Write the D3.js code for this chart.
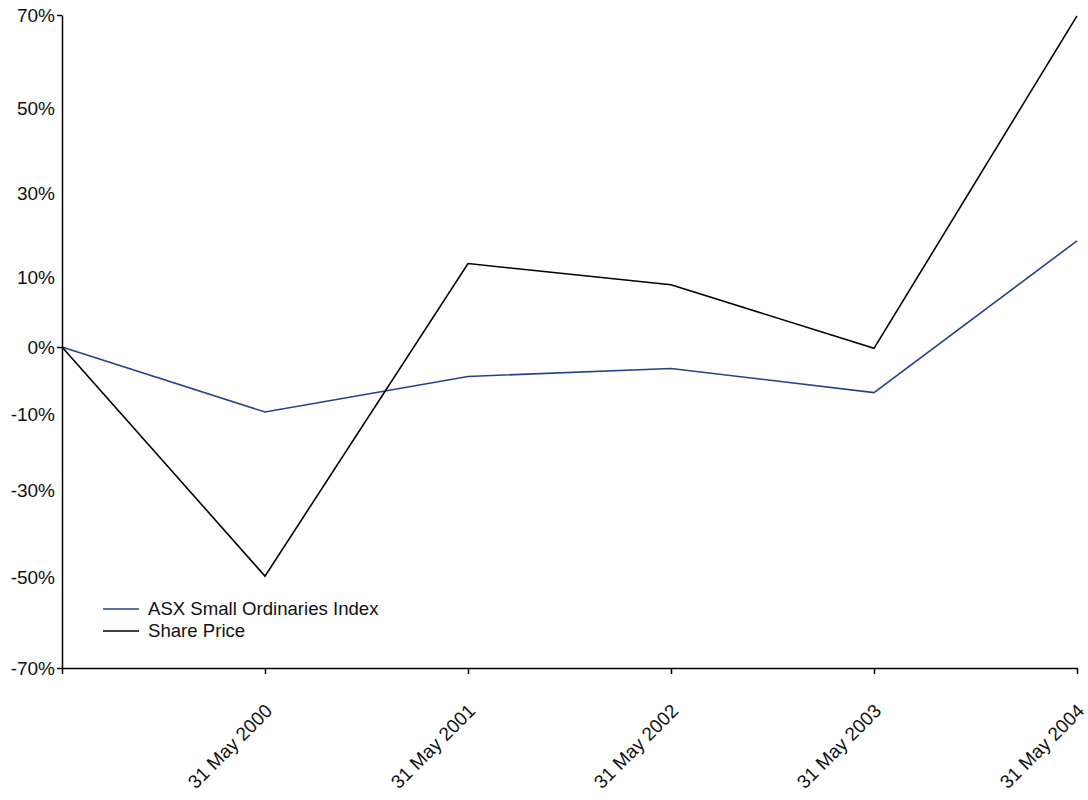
<!DOCTYPE html>
<html><head><meta charset="utf-8">
<script src="https://cdn.jsdelivr.net/npm/d3@7"></script>
<style>body{margin:0;background:#fff}svg{display:block;font-family:"Liberation Sans",Arial,Helvetica,sans-serif}</style>
</head><body><svg id="c" width="1088" height="800"></svg>
<script>
const categories = ["", "31 May 2000", "31 May 2001", "31 May 2002", "31 May 2003", "31 May 2004"];
const indexValues = [0, -9.7, -4.4, -3.2, -6.8, 18.6];
const shareValues = [0, -49.8, 13.2, 8.9, -0.2, 69.8];
const yTickValues = [70, 50, 30, 10, 0, -10, -30, -50, -70];
const yTickMarks = [70, 0, -70];
const seriesNames = ["ASX Small Ordinaries Index", "Share Price"];

const svg = d3.select("#c");
const x = d3.scalePoint().domain(categories.map((d,i)=>i)).range([62, 1077]);
const y = d3.scaleLinear()
  .domain([-70, -50, -30, -10, 0, 10, 30, 50, 70])
  .range([668, 577, 490, 414, 347, 277, 193, 108, 15]);

// y axis
const ya = svg.append("g").attr("transform","translate(62,0)")
  .call(d3.axisLeft(y).tickValues(yTickValues).tickSize(5).tickSizeOuter(0).tickFormat(d=>d+"%"));
ya.select(".domain").attr("stroke","#000").attr("stroke-width",1.5);
ya.selectAll(".tick line").attr("stroke","#000").attr("stroke-width",1.5)
  .attr("display", d => yTickMarks.includes(d) ? null : "none");
ya.selectAll(".tick text").attr("font-size",19).attr("fill","#111").attr("x",-7).attr("font-family",null);

// x axis
const xa = svg.append("g").attr("transform","translate(0,668)")
  .call(d3.axisBottom(x).tickSize(6).tickSizeOuter(0).tickFormat(i=>categories[i]));
xa.select(".domain").attr("stroke","#000").attr("stroke-width",1.5);
xa.selectAll(".tick line").attr("stroke","#000").attr("stroke-width",1.5);
xa.selectAll(".tick text").attr("font-size",19).attr("fill","#111").attr("font-family",null)
  .attr("text-anchor","end").attr("dy",null).attr("y",0)
  .attr("transform","translate(8,44) rotate(-45)");

const line = d3.line().x((d,i)=>x(i)).y(d=>y(d));
svg.append("path").datum(indexValues).attr("d",line).attr("fill","none")
  .attr("stroke","#23428a").attr("stroke-width",1.6);
svg.append("path").datum(shareValues).attr("d",line).attr("fill","none")
  .attr("stroke","#000").attr("stroke-width",1.6);

// legend
const colors = ["#23428a","#000"];
seriesNames.forEach((n,i)=>{
  const yy = 609 + i*22;
  svg.append("line").attr("x1",103).attr("x2",139).attr("y1",yy).attr("y2",yy)
    .attr("stroke",colors[i]).attr("stroke-width",1.6);
  svg.append("text").attr("x",148).attr("y",yy+6).attr("font-size",18.6).attr("fill","#111").text(n);
});
</script></body></html>
